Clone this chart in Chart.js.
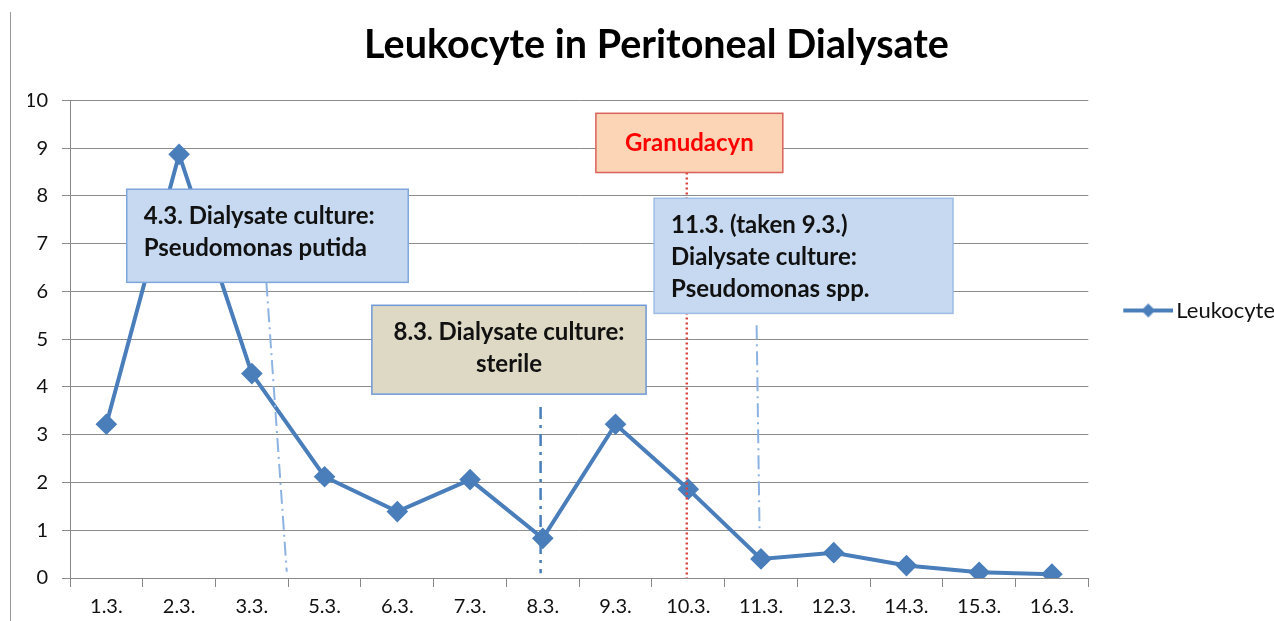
<!DOCTYPE html>
<html>
<head>
<meta charset="utf-8">
<script src="https://cdn.jsdelivr.net/npm/chart.js@4.4.1/dist/chart.umd.min.js"></script>
<style>
  html, body { margin: 0; padding: 0; background: #fff; }
  #wrap { position: relative; width: 1274px; height: 621px; }
  #edge { position: absolute; left: 10px; top: 12px; bottom: 0; border-left: 1px solid #999; }
</style>
</head>
<body>
<div id="wrap">
  <div id="edge"></div>
  <canvas id="chart" width="1274" height="621"></canvas>
</div>
<script>
let days = ["1.3.", "2.3.", "3.3.", "5.3.", "6.3.", "7.3.", "8.3.", "9.3.", "10.3.", "11.3.", "12.3.", "14.3.", "15.3.", "16.3."];
let leukocyte = [3.22, 8.87, 4.28, 2.12, 1.39, 2.06, 0.83, 3.22, 1.86, 0.40, 0.53, 0.26, 0.12, 0.08];
let yTicks = [0, 1, 2, 3, 4, 5, 6, 7, 8, 9, 10];

const FONT = "Lato, 'Open Sans', sans-serif";
const BLUE = "#4a7ebb";

// notes on the chart, placed in scale units (category index, value)
let boxes = [
  { x1: 0.28, x2: 4.15, y1: 8.14, y2: 6.19, fill: "#c6d9f1", stroke: "#7fa6dc", color: "#111",
    align: "left", lines: ["4.3. Dialysate culture:", "Pseudomonas putida"] },
  { x1: 3.65, x2: 7.42, y1: 5.71, y2: 3.85, fill: "#ddd9c4", stroke: "#6e9ad8", color: "#111",
    align: "center", lines: ["8.3. Dialysate culture:", "sterile"] },
  { x1: 6.73, x2: 9.30, y1: 9.73, y2: 8.49, fill: "#fbd5b5", stroke: "#d9625c", color: "#ff0000",
    align: "center", lines: ["Granudacyn"] },
  { x1: 7.53, x2: 11.64, y1: 7.95, y2: 5.54, fill: "#c6d9f1", stroke: "#9dbde6", color: "#111",
    align: "left", lines: ["11.3. (taken 9.3.)", "Dialysate culture:", "Pseudomonas spp."] }
];

let markers = [
  { x1: 2.20, y1: 6.19, x2: 2.48, y2: 0.13, color: "#8db3e2", width: 2, dash: [14, 5, 2, 5] },
  { x1: 5.97, y1: 3.58, x2: 5.97, y2: 0.10, color: "#4a7ebb", width: 2.5, dash: [12, 6, 3, 6] },
  { x1: 7.98, y1: 8.49, x2: 7.98, y2: 0.0, color: "#d9443f", width: 2.5, dash: [2, 3] },
  { x1: 8.94, y1: 5.29, x2: 8.98, y2: 1.0, color: "#8db3e2", width: 2, dash: [14, 5, 2, 5] }
];

const notesPlugin = {
  id: "notes",
  afterDatasetsDraw(chart) {
    const ctx = chart.ctx;
    const xs = chart.scales.x, ys = chart.scales.y;
    ctx.save();
    markers.forEach(m => {
      ctx.beginPath();
      ctx.setLineDash(m.dash);
      ctx.strokeStyle = m.color;
      ctx.lineWidth = m.width;
      ctx.moveTo(xs.getPixelForValue(m.x1), ys.getPixelForValue(m.y1));
      ctx.lineTo(xs.getPixelForValue(m.x2), ys.getPixelForValue(m.y2));
      ctx.stroke();
    });
    ctx.setLineDash([]);
    boxes.forEach(b => {
      let left = xs.getPixelForValue(b.x1), right = xs.getPixelForValue(b.x2);
      let top = ys.getPixelForValue(b.y1), bottom = ys.getPixelForValue(b.y2);
      ctx.fillStyle = b.fill;
      ctx.fillRect(left, top, right - left, bottom - top);
      ctx.strokeStyle = b.stroke;
      ctx.lineWidth = 1.5;
      ctx.strokeRect(left, top, right - left, bottom - top);
      ctx.fillStyle = b.color;
      ctx.font = "bold 24px " + FONT;
      ctx.textBaseline = "middle";
      let lh = 32;
      let y0 = b.lines.length === 1 ? (top + bottom) / 2 : top + 27;
      b.lines.forEach((t, i) => {
        if (b.align === "left") {
          ctx.textAlign = "left";
          ctx.fillText(t, left + 17, y0 + i * lh);
        } else {
          ctx.textAlign = "center";
          ctx.fillText(t, (left + right) / 2, y0 + i * lh);
        }
      });
    });
    ctx.restore();
  }
};

// legend symbol: line with a diamond, drawn in the right part of a wider canvas
function legendIcon() {
  let c = document.createElement("canvas");
  c.width = 83; c.height = 18;
  let g = c.getContext("2d");
  g.strokeStyle = BLUE; g.lineWidth = 4;
  g.beginPath(); g.moveTo(33, 9); g.lineTo(83, 9); g.stroke();
  g.fillStyle = BLUE;
  g.beginPath(); g.moveTo(58, 2); g.lineTo(65, 9); g.lineTo(58, 16); g.lineTo(51, 9); g.closePath(); g.fill();
  return c;
}

const ctx = document.getElementById("chart").getContext("2d");

new Chart(ctx, {
  type: "line",
  data: {
    labels: days,
    datasets: [{
      label: "Leukocyte",
      data: leukocyte,
      borderColor: BLUE,
      backgroundColor: BLUE,
      borderWidth: 4,
      pointStyle: "rectRot",
      pointRadius: 8,
      pointHoverRadius: 8,
      tension: 0
    }]
  },
  options: {
    responsive: false,
    animation: false,
    layout: { padding: { left: 28, right: -11, top: 0, bottom: 0 } },
    plugins: {
      title: {
        display: true,
        text: "Leukocyte in Peritoneal Dialysate",
        color: "#000",
        font: { family: FONT, size: 39.5, weight: "bold" },
        padding: { top: 22, bottom: 31 }
      },
      legend: {
        position: "right",
        labels: {
          color: "#111",
          font: { family: FONT, size: 22 },
          usePointStyle: true,
          pointStyleWidth: 67,
          generateLabels(chart) {
            return [{ text: "Leukocyte", pointStyle: legendIcon(), fontColor: "#111", lineWidth: 0, datasetIndex: 0 }];
          }
        }
      },
      tooltip: { enabled: false }
    },
    scales: {
      x: {
        offset: true,
        afterFit(scale) { scale.height = 43; },
        grid: { offset: true, drawOnChartArea: false, tickLength: 9, color: "#888" },
        border: { color: "#888" },
        ticks: { color: "#111", font: { family: FONT, size: 20, lineHeight: 1 }, padding: 10, maxRotation: 0 }
      },
      y: {
        min: 0,
        max: 10,
        afterFit(scale) { scale.width = 42; },
        afterBuildTicks(scale) { scale.ticks = yTicks.map(v => ({ value: v })); },
        grid: { color: "#8c8c8c", tickLength: 8 },
        border: { color: "#888" },
        ticks: { color: "#111", font: { family: FONT, size: 20 }, padding: 14 }
      }
    }
  },
  plugins: [notesPlugin]
});
</script>
</body>
</html>
